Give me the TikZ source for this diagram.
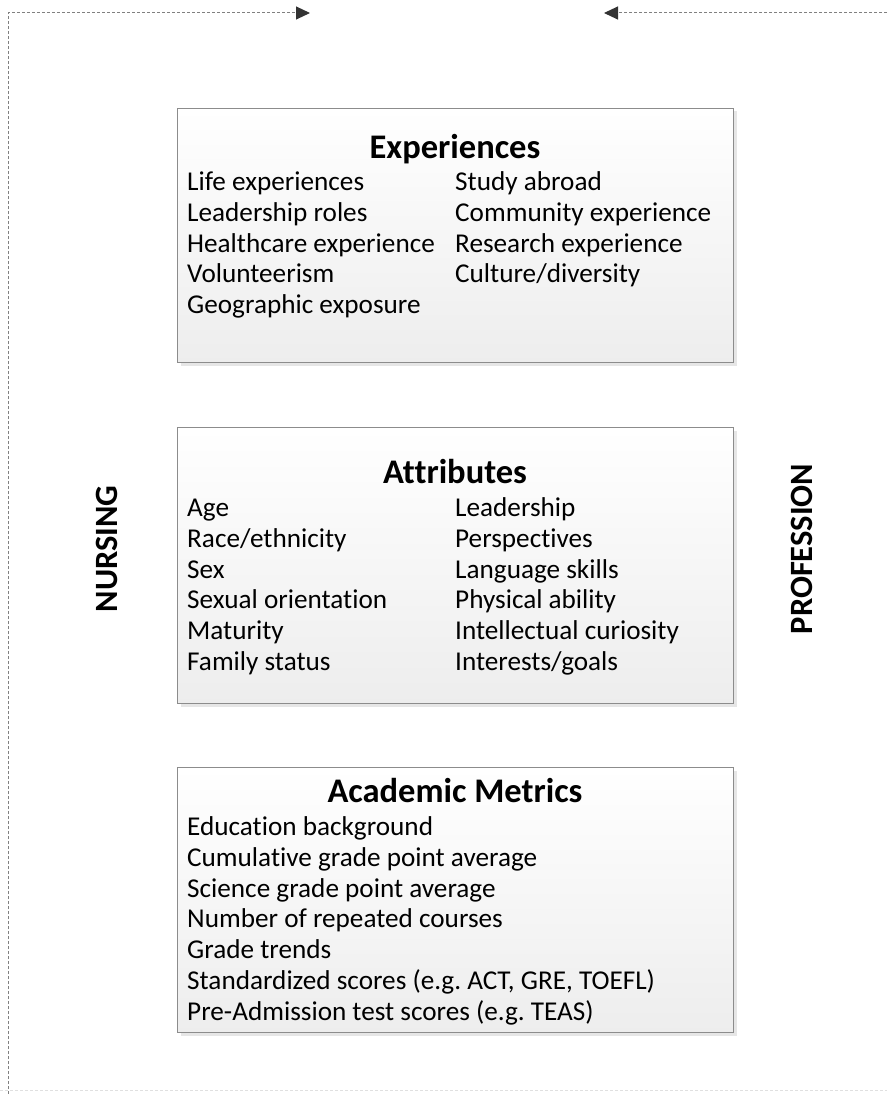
\documentclass[tikz,border=0pt]{standalone}
\usepackage{fontspec}
\setmainfont{Carlito}[Ligatures={NoCommon}]
\usetikzlibrary{arrows.meta,shadows}
\frenchspacing
\begin{document}
\begin{tikzpicture}[x=1pt,y=-1pt,
  infobox/.style={draw=black!45, line width=1pt, rectangle, inner sep=0pt,
    top color=white, bottom color=black!7, anchor=north west,
    drop shadow={shadow xshift=3pt, shadow yshift=-3pt, fill=black!12, opacity=0.8}},
  heading/.style={inner sep=0pt, anchor=base, font=\fontsize{34.5}{40}\selectfont\bfseries},
  item/.style={inner sep=0pt, anchor=base west, font=\fontsize{27.2}{30.8}\selectfont},
  sidelabel/.style={inner sep=0pt, rotate=90, font=\fontsize{32.5}{38}\selectfont\bfseries},
  frame/.style={draw=black!50, line width=1pt, dash pattern=on 3pt off 2pt},
  faintline/.style={draw=black!12, line width=1pt, dash pattern=on 3pt off 2pt},
  tip/.style={-{Triangle[length=14pt,width=13pt,color=black!80]}}]
\useasboundingbox (0,0) rectangle (887,1094);

% dashed frame with its two arrows
\coordinate (lb) at (8,1094);
\coordinate (tl) at (8,13);
\coordinate (la) at (310,13);
\coordinate (rs) at (887,13);
\coordinate (ra) at (604,13);
\coordinate (bl) at (0,1090);
\coordinate (br) at (887,1090);
\draw[frame, tip] (lb) -- (tl) -- (la);
\draw[frame, tip] (rs) -- (ra);
\draw[faintline] (bl) -- (br);

% side labels
\node[sidelabel] (nursing) at (107,549) {NURSING};
\node[sidelabel] (profession) at (802,549) {PROFESSION};

% Experiences
\node[infobox, minimum width=556pt, minimum height=254pt] (expbox) at (177,108) {};
\node[heading] (exptitle) at (455,158.5) {Experiences};
\node[item] (e1) at (187,190.5) {Life experiences};
\node[item] (e2) at (187,221.3) {Leadership roles};
\node[item] (e3) at (187,252.1) {Healthcare experience};
\node[item] (e4) at (187,282.9) {Volunteerism};
\node[item] (e5) at (187,313.7) {Geographic exposure};
\node[item] (e6) at (455,190.5) {Study abroad};
\node[item] (e7) at (455,221.3) {Community experience};
\node[item] (e8) at (455,252.1) {Research experience};
\node[item] (e9) at (455,282.9) {Culture/diversity};

% Attributes
\node[infobox, minimum width=556pt, minimum height=276pt] (attbox) at (177,427) {};
\node[heading] (atttitle) at (455,483) {Attributes};
\node[item] (a1) at (187,516.5) {Age};
\node[item] (a2) at (187,547.3) {Race/ethnicity};
\node[item] (a3) at (187,578.1) {Sex};
\node[item] (a4) at (187,608.9) {Sexual orientation};
\node[item] (a5) at (187,639.7) {Maturity};
\node[item] (a6) at (187,670.5) {Family status};
\node[item] (a7) at (455,516.5) {Leadership};
\node[item] (a8) at (455,547.3) {Perspectives};
\node[item] (a9) at (455,578.1) {Language skills};
\node[item] (a10) at (455,608.9) {Physical ability};
\node[item] (a11) at (455,639.7) {Intellectual curiosity};
\node[item] (a12) at (455,670.5) {Interests/goals};

% Academic Metrics
\node[infobox, minimum width=556pt, minimum height=265pt] (acbox) at (177,767) {};
\node[heading] (actitle) at (455,802) {Academic Metrics};
\node[item] (m1) at (187,835.5) {Education background};
\node[item] (m2) at (187,866.3) {Cumulative grade point average};
\node[item] (m3) at (187,897.1) {Science grade point average};
\node[item] (m4) at (187,927.9) {Number of repeated courses};
\node[item] (m5) at (187,958.7) {Grade trends};
\node[item] (m6) at (187,989.5) {Standardized scores (e.g. ACT, GRE, TOEFL)};
\node[item] (m7) at (187,1020.3) {Pre-Admission test scores (e.g. TEAS)};
\end{tikzpicture}
\end{document}
